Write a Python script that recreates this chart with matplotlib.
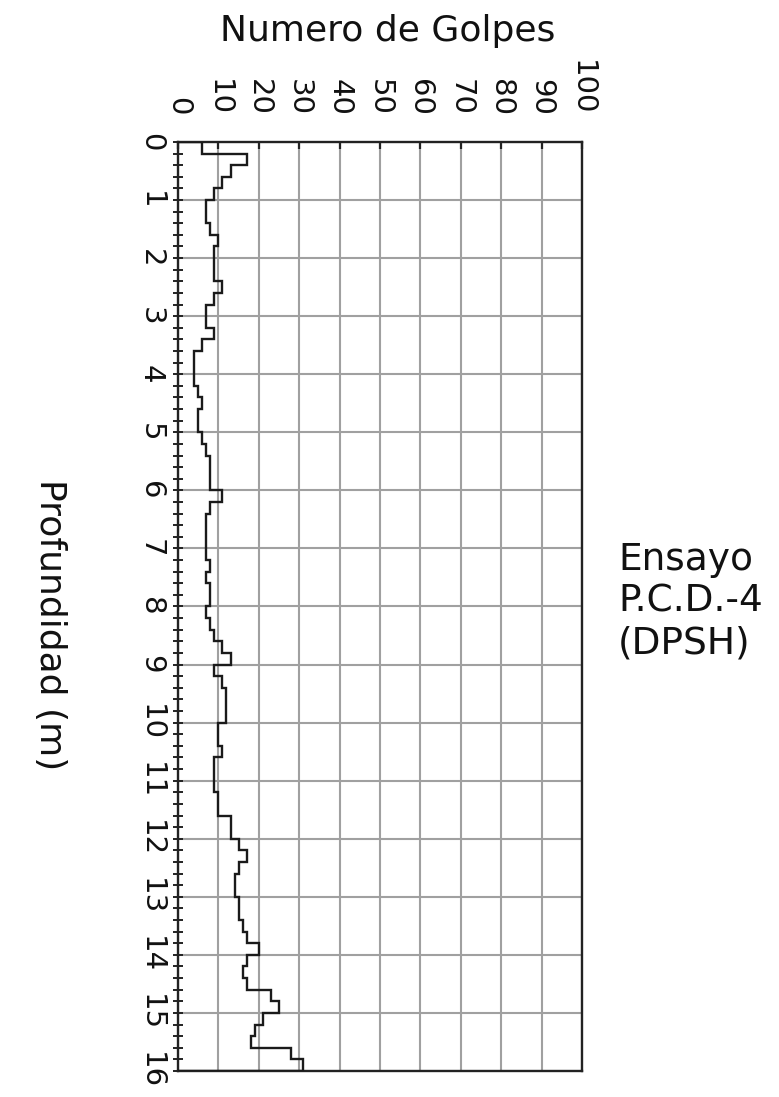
import numpy as np
import matplotlib
matplotlib.use("Agg")
import matplotlib.pyplot as plt
from matplotlib.ticker import MultipleLocator

plt.rcParams['font.family'] = ['DejaVu Sans']

# depth edges every 0.2 m, blows per interval
depth_edges = np.round(np.arange(0, 16.01, 0.2), 1)
golpes = [6, 17, 13, 11, 9, 7, 7, 8, 10, 9,
          9, 9, 11, 9, 7, 7, 9, 6, 4, 4,
          4, 5, 6, 5, 5, 6, 7, 8, 8, 8,
          11, 8, 7, 7, 7, 7, 8, 7, 8, 8,
          7, 8, 9, 11, 13, 9, 11, 12, 12, 12,
          10, 10, 11, 9, 9, 9, 10, 10, 13, 13,
          15, 17, 15, 14, 14, 15, 15, 16, 17, 20,
          17, 16, 17, 23, 25, 21, 19, 18, 28, 31]
x_ticks = list(range(0, 101, 10))
y_ticks = list(range(0, 17))

fig = plt.figure(figsize=(7.79, 10.97), dpi=100)
ax = fig.add_axes([0.2285, 0.0237, 0.5186, 0.8469])

ax.stairs(golpes, depth_edges, orientation='horizontal', baseline=0,
          color='#1a1a1a', linewidth=1.7, zorder=3)

ax.set_xlim(0, 100)
ax.set_ylim(16, 0)
ax.set_xticks(x_ticks)
ax.set_yticks(y_ticks)
ax.yaxis.set_minor_locator(MultipleLocator(0.2))
ax.xaxis.tick_top()
ax.grid(True, which='major', color='#a0a0a0', linewidth=1.5, zorder=1)

ax.tick_params(axis='x', which='major', direction='in', length=5, width=1.6,
               color='#222222', labelsize=21, pad=19, labelrotation=-90,
               labelcolor='#111111')
ax.tick_params(axis='y', which='both', direction='inout', length=7, width=1.4,
               color='#222222', labelsize=21, pad=6, labelrotation=-90,
               labelcolor='#111111')
for lbl in ax.get_yticklabels():
    lbl.set_va('center')

for s in ax.spines.values():
    s.set_linewidth(1.7)
    s.set_color('#222222')

fig.text(388 / 779, 1 - 31 / 1097, 'Numero de Golpes', ha='center', va='center',
         fontsize=26, color='#111111')
fig.text(50 / 779, 1 - 625 / 1097, 'Profundidad (m)', ha='center', va='center',
         rotation=-90, fontsize=26, color='#111111')
fig.text(618 / 779, 1 - 602 / 1097, 'Ensayo\nP.C.D.-4\n(DPSH)', ha='left', va='center',
         fontsize=27, linespacing=1.2, color='#111111')

fig.savefig('out.png', dpi=100)
